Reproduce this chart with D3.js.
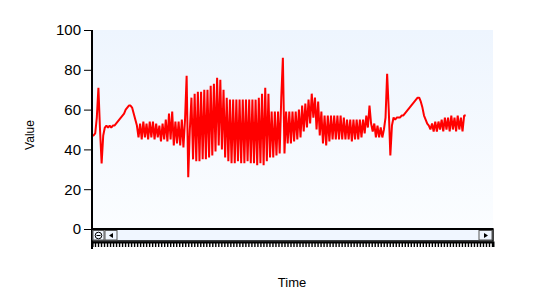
<!DOCTYPE html>
<html>
<head>
<meta charset="utf-8">
<script src="https://cdn.jsdelivr.net/npm/d3@7"></script>
<style>
  body { margin: 0; background: #fff; }
  svg { display: block; font-family: "Liberation Sans", Arial, sans-serif; }
</style>
</head>
<body>
<svg id="chart" width="534" height="308"></svg>
<script>
// sample values, one per time step
const values = [
  47, 47, 48, 56, 71, 50, 33, 47, 51, 52,
  51, 52, 51, 52, 52, 53, 54, 55, 56, 57,
  58, 60, 61, 62, 62, 61, 58, 55, 52, 46,
  53, 45, 54, 46, 53, 45, 54, 46, 54, 45,
  53, 46, 52, 44, 53, 45, 55, 44, 58, 45,
  59, 42, 54, 43, 54, 42, 55, 41, 55, 77,
  26, 50, 66, 35, 68, 34, 69, 34, 69, 35,
  70, 35, 70, 36, 72, 37, 73, 39, 76, 42,
  75, 40, 70, 36, 66, 34, 65, 33, 65, 33,
  65, 34, 65, 33, 65, 33, 65, 34, 65, 33,
  65, 33, 65, 32, 66, 33, 68, 32, 71, 34,
  68, 36, 59, 36, 59, 37, 59, 38, 66, 86,
  38, 59, 43, 59, 43, 59, 44, 59, 45, 60,
  46, 62, 49, 63, 51, 65, 53, 68, 56, 66,
  50, 64, 47, 59, 43, 57, 42, 57, 44, 57,
  45, 57, 45, 57, 45, 57, 45, 56, 45, 55,
  45, 55, 44, 55, 45, 55, 45, 55, 46, 55,
  48, 57, 51, 62, 53, 49, 53, 46, 52, 46,
  51, 46, 50, 56, 78, 60, 37, 52, 56, 55,
  56, 56, 56, 57, 57, 58, 59, 60, 61, 62,
  63, 64, 65, 66, 66, 64, 61, 57, 55, 53,
  52, 50, 53, 49, 54, 49, 54, 50, 55, 49,
  56, 50, 56, 49, 57, 50, 56, 49, 57, 50,
  56, 49, 57, 57
];
const yTicks = [0, 20, 40, 60, 80, 100];
const xMax = 250;

const svg = d3.select("#chart");
const plotL = 92, plotR = 493, plotT = 30, plotB = 229;

const x = d3.scaleLinear().domain([0, xMax]).range([plotL, plotR]);
const y = d3.scaleLinear().domain([0, 100]).range([plotB, plotT]);

// plot background gradient
const grad = svg.append("defs").append("linearGradient")
    .attr("id", "bg").attr("x1", 0).attr("y1", 0).attr("x2", 0).attr("y2", 1);
grad.append("stop").attr("offset", "0%").attr("stop-color", "#eef5fe");
grad.append("stop").attr("offset", "100%").attr("stop-color", "#fbfdff");

svg.append("rect")
    .attr("x", plotL).attr("y", plotT)
    .attr("width", plotR - plotL).attr("height", plotB - plotT)
    .attr("fill", "url(#bg)");

// series line
const line = d3.line()
    .x((d, i) => x(i))
    .y(d => y(d));

svg.append("path")
    .datum(values)
    .attr("fill", "none")
    .attr("stroke", "#ff0000")
    .attr("stroke-width", 2)
    .attr("stroke-linejoin", "bevel")
    .attr("d", line);

// y axis
const yAxis = svg.append("g")
    .attr("transform", "translate(" + plotL + ",0)")
    .call(d3.axisLeft(y).tickValues(yTicks).tickSize(8).tickPadding(3));
yAxis.select(".domain").remove();
yAxis.selectAll("text")
    .attr("font-size", 15)
    .attr("font-family", "'Liberation Sans', Arial, sans-serif")
    .attr("fill", "#000");
yAxis.selectAll("line").attr("stroke", "#000");

svg.append("line")
    .attr("x1", plotL).attr("x2", plotL)
    .attr("y1", plotT).attr("y2", 249)
    .attr("stroke", "#000").attr("stroke-width", 2);

// scrollbar
const sb = svg.append("g");
sb.append("rect")
    .attr("x", plotL).attr("y", plotB)
    .attr("width", plotR - plotL).attr("height", 12)
    .attr("fill", "#f0f6ff").attr("stroke", "#000").attr("stroke-width", 1.5);
sb.append("line")
    .attr("x1", plotL).attr("x2", plotR)
    .attr("y1", plotB).attr("y2", plotB)
    .attr("stroke", "#000").attr("stroke-width", 2);

const btn = (bx, w) => sb.append("rect")
    .attr("x", bx).attr("y", plotB + 1.5)
    .attr("width", w).attr("height", 9.5)
    .attr("fill", "#f0f6ff").attr("stroke", "#555").attr("stroke-width", 1);
btn(93, 11);
btn(105, 12);
btn(479, 13);

sb.append("circle").attr("cx", 98.5).attr("cy", plotB + 6.5).attr("r", 3.3)
    .attr("fill", "none").attr("stroke", "#000").attr("stroke-width", 1);
sb.append("line").attr("x1", 96.5).attr("x2", 100.5)
    .attr("y1", plotB + 6.5).attr("y2", plotB + 6.5)
    .attr("stroke", "#000").attr("stroke-width", 1);
sb.append("path").attr("d", "M109,235.5 L113,233 L113,238 Z").attr("fill", "#000");
sb.append("path").attr("d", "M488,235.5 L484,233 L484,238 Z").attr("fill", "#000");

// x axis (tick marks only)
const xAxis = svg.append("g")
    .attr("transform", "translate(0," + (plotB + 13) + ")")
    .call(d3.axisBottom(x).tickValues(d3.range(0, xMax + 0.1, 1.875)).tickSize(5).tickFormat(""));
xAxis.select(".domain").attr("stroke", "#000").attr("stroke-width", 2);
xAxis.selectAll("line").attr("stroke", "#000").attr("stroke-width", 1.4);

// axis titles
svg.append("text")
    .attr("x", 292).attr("y", 287)
    .attr("text-anchor", "middle")
    .attr("font-size", 13)
    .text("Time");

svg.append("text")
    .attr("transform", "translate(34,135) rotate(-90)")
    .attr("text-anchor", "middle")
    .attr("font-size", 12)
    .text("Value");
</script>
</body>
</html>
